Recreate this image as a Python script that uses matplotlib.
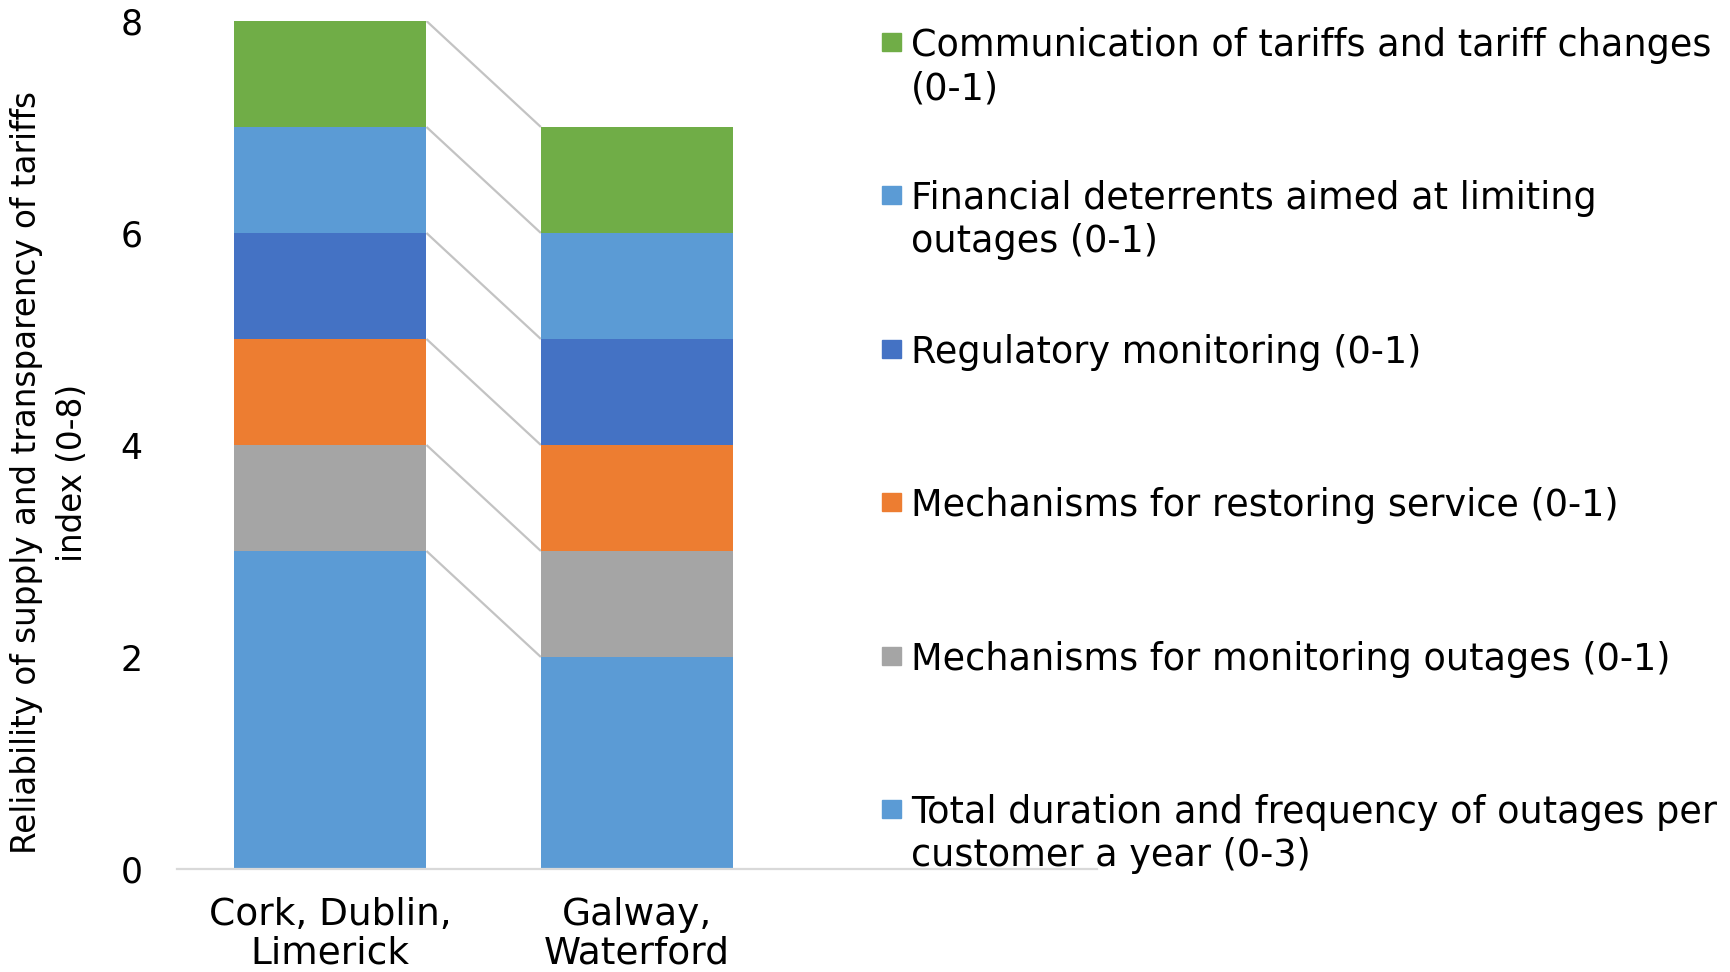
import matplotlib
matplotlib.use("Agg")
import matplotlib.pyplot as plt
from matplotlib.patches import Rectangle
import numpy as np

# ---- data ----
categories = ["Cork, Dublin,\nLimerick", "Galway,\nWaterford"]
series_names = [
    "Total duration and frequency of outages per\ncustomer a year (0-3)",
    "Mechanisms for monitoring outages (0-1)",
    "Mechanisms for restoring service (0-1)",
    "Regulatory monitoring (0-1)",
    "Financial deterrents aimed at limiting\noutages (0-1)",
    "Communication of tariffs and tariff changes\n(0-1)",
]
series_values = [
    [3, 2],
    [1, 1],
    [1, 1],
    [1, 1],
    [1, 1],
    [1, 1],
]
series_colors = ["#5B9BD5", "#A5A5A5", "#ED7D31", "#4472C4", "#5B9BD5", "#70AD47"]
y_ticks = [0, 2, 4, 6, 8]
y_label = "Reliability of supply and transparency of tariffs\nindex (0-8)"

W, H = 1731, 972
fig = plt.figure(figsize=(W / 100, H / 100), dpi=100)
ax = fig.add_axes([177 / W, 1 - 869 / H, 920 / W, 848 / H])

x = np.arange(len(categories))
bw = 0.627
bottom = np.zeros(len(categories))
tops = []
for vals, col in zip(series_values, series_colors):
    vals = np.array(vals, dtype=float)
    ax.bar(x, vals, bw, bottom=bottom, color=col, edgecolor="none", zorder=2)
    bottom = bottom + vals
    tops.append(bottom.copy())

# connector lines between series boundaries
for t in tops:
    ax.plot([x[0] + bw / 2, x[1] - bw / 2], [t[0], t[1]], color="#C3C3C3", lw=1.6, zorder=1,
            solid_capstyle="butt")

ax.set_xlim(-0.5, 2.5)
ax.set_ylim(0, 8)
ax.set_yticks(y_ticks)
ax.set_xticks(x)
ax.set_xticklabels(categories, fontsize=27, linespacing=1.1)
ax.tick_params(axis="y", length=0, pad=25, labelsize=25)
ax.tick_params(axis="x", length=0, pad=20)
for s in ["top", "right", "left"]:
    ax.spines[s].set_visible(False)
ax.spines["bottom"].set_color("#D9D9D9")
ax.spines["bottom"].set_linewidth(1.6)
ax.spines["bottom"].set_zorder(3)

fig.text(50 / W, 1 - 473 / H, y_label, rotation=90, ha="center", va="center",
         fontsize=23.5, multialignment="center", linespacing=1.5)

# legend (top entry = last series)
leg_y = [42, 195, 349, 502, 656, 809]
order = list(range(len(series_names)))[::-1]
for yy, i in zip(leg_y, order):
    fig.patches.append(Rectangle((882 / W, 1 - (yy + 9) / H), 19 / W, 18 / H,
                                 transform=fig.transFigure, color=series_colors[i]))
    fig.text(911 / W, 1 - (yy - 21 + 6) / H, series_names[i], ha="left", va="top",
             fontsize=26.4, linespacing=1.21)

fig.savefig("out.png", dpi=100)
